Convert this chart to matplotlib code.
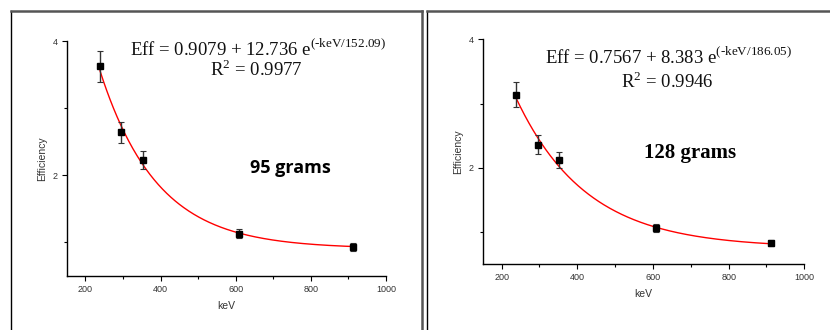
import numpy as np
import matplotlib.pyplot as plt
from matplotlib.lines import Line2D

# gamma lines (keV) and measured efficiencies
energy = [238.6, 295.2, 351.9, 609.3, 911.2]

eff_95 = [3.63, 2.64, 2.23, 1.13, 0.93]
err_95 = [0.23, 0.16, 0.14, 0.07, 0.06]
fit_95 = (0.9079, 12.736, 152.09)
r2_95 = "0.9977"

eff_128 = [3.14, 2.36, 2.12, 1.06, 0.83]
err_128 = [0.20, 0.145, 0.125, 0.06, 0.05]
fit_128 = (0.7567, 8.383, 186.05)
r2_128 = "0.9946"

W, H = 830, 330
fig = plt.figure(figsize=(W / 100, H / 100), dpi=100)

plt.rcParams['mathtext.fontset'] = 'custom'
plt.rcParams['mathtext.rm'] = 'Liberation Serif'


def px(x0, y0, x1, y1):
    # pixel box (top-left origin) -> figure fraction rect
    return [x0 / W, 1 - y1 / H, (x1 - x0) / W, (y1 - y0) / H]


def frame(x0, x1, y0=11):
    fig.add_artist(Line2D([x0 / W, x0 / W], [0, 1 - y0 / H], color='black', lw=1.0))
    fig.add_artist(Line2D([x0 / W, x1 / W], [1 - y0 / H, 1 - y0 / H], color='#555555', lw=1.8))
    fig.add_artist(Line2D([x1 / W, x1 / W], [0, 1 - y0 / H], color='#555555', lw=1.8))


frame(11, 421.5)
frame(427, 840)


def panel(rect, eff, err, fit, r2, label, label_font, eq_xy, r2_xy, lab_xy):
    ax = fig.add_axes(rect)
    a, b, t = fit
    xs = np.linspace(energy[0], energy[-1], 300)
    ax.plot(xs, a + b * np.exp(-xs / t), color='red', lw=1.0, zorder=2)
    ax.errorbar(energy, eff, yerr=err, fmt='s', color='black', ms=4.0,
                ecolor='#333333', elinewidth=1.0, capsize=2, capthick=0.8, zorder=3)
    ax.set_xlim(150, 1000)
    ax.set_ylim(0.5, 4.0)
    ax.set_xticks([200, 400, 600, 800, 1000])
    ax.set_xticks([300, 500, 700, 900], minor=True)
    ax.set_yticks([2, 4])
    ax.set_yticks([1, 3], minor=True)
    for s in ['top', 'right']:
        ax.spines[s].set_visible(False)
    for s in ['left', 'bottom']:
        ax.spines[s].set_linewidth(1.0)
    ax.tick_params(which='major', length=3.5, width=0.8, labelsize=6.5, pad=3)
    ax.tick_params(which='minor', length=2, width=0.8)
    for lb in ax.get_xticklabels() + ax.get_yticklabels():
        lb.set_family('Liberation Sans')
        lb.set_color('#333333')
    ax.set_xlabel('keV', fontsize=7.5, family='Liberation Sans', color='#333333', labelpad=5)
    ax.set_ylabel('Efficiency', fontsize=7.5, family='Liberation Sans', color='#333333', labelpad=4)
    ax.patch.set_alpha(0)

    eq = r'Eff = %.4g + %s e$^{\text{(-keV/%.2f)}}$' % (a, ('%g' % b), t)
    fig.text(eq_xy[0] / W, 1 - eq_xy[1] / H, eq, ha='center', va='center',
             fontsize=13.5, family='Liberation Serif', color='#111111')
    fig.text(r2_xy[0] / W, 1 - r2_xy[1] / H, r'R$^{\mathregular{2}}$ = ' + r2,
             ha='center', va='center', fontsize=13.5, family='Liberation Serif', color='#111111')
    fig.text(lab_xy[0] / W, 1 - lab_xy[1] / H, label, ha='center', va='center',
             fontsize=label_font[1], family=label_font[0], fontweight='bold', color='black')
    return ax


panel(px(66.7, 41.3, 386, 276), eff_95, err_95, fit_95, r2_95,
      '95 grams', ('Open Sans', 13), (258, 49), (256, 70), (290, 168))
panel(px(482.7, 39.3, 804.3, 264.3), eff_128, err_128, fit_128, r2_128,
      '128 grams', ('Liberation Serif', 15), (668, 57), (667, 82), (690, 153))

fig.savefig('out.png', dpi=100)
